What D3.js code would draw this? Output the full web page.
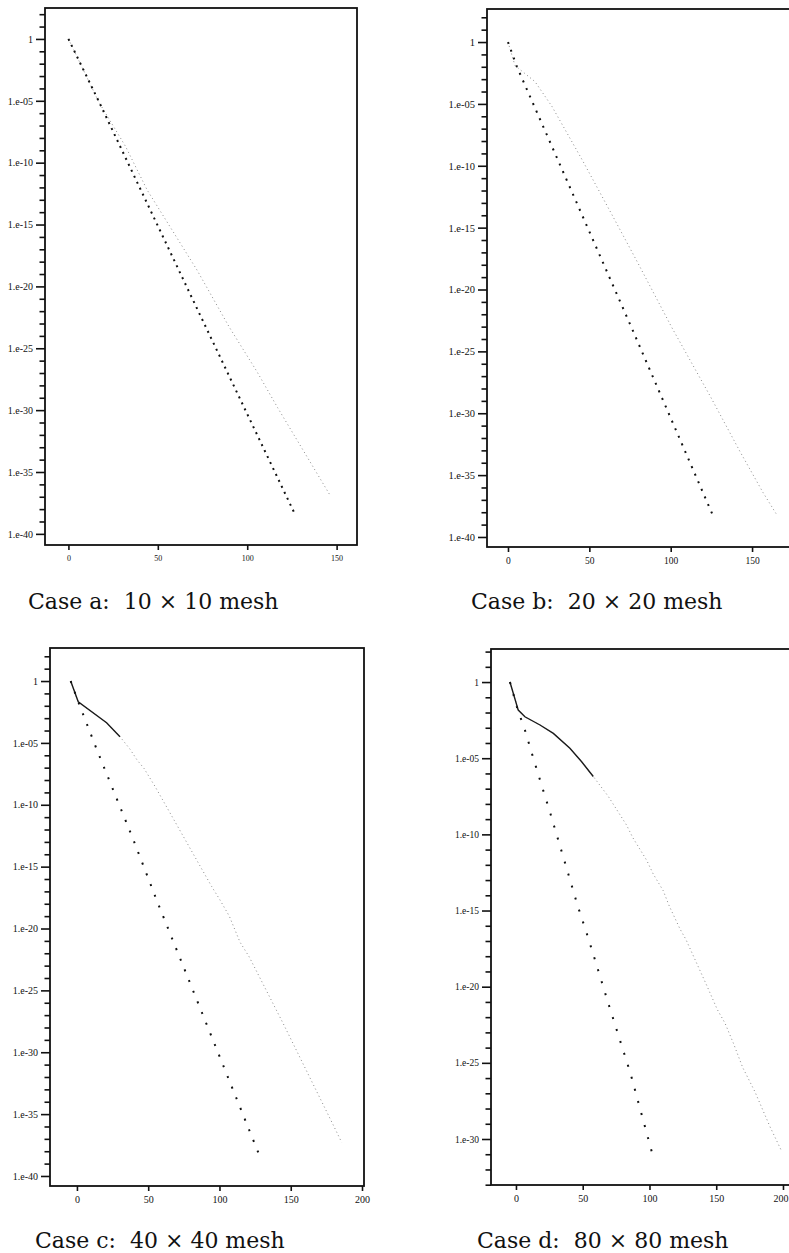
<!DOCTYPE html>
<html>
<head>
<meta charset="utf-8">
<script src="https://cdn.jsdelivr.net/npm/d3@7"></script>
<style>
  html, body { margin: 0; padding: 0; background: #fff; }
  svg { display: block; }
  .cap { white-space: pre; }
</style>
</head>
<body>
<svg id="fig" width="789" height="1253"></svg>
<script>
// ---- tick values and labels ----
const xTicksAB = [0, 50, 100, 150];
const xTicksCD = [0, 50, 100, 150, 200];
const yMajorExp = [0, -5, -10, -15, -20, -25, -30, -35, -40];
const yMajorLabels = ["1", "1.e-05", "1.e-10", "1.e-15", "1.e-20", "1.e-25", "1.e-30", "1.e-35", "1.e-40"];
const yMajorExpD = [0, -5, -10, -15, -20, -25, -30];
const yMajorLabelsD = ["1", "1.e-05", "1.e-10", "1.e-15", "1.e-20", "1.e-25", "1.e-30"];
const captions = ["Case a:  10 \u00d7 10 mesh", "Case b:  20 \u00d7 20 mesh",
                  "Case c:  40 \u00d7 40 mesh", "Case d:  80 \u00d7 80 mesh"];

// ---- residual histories: iteration number and log10(residual) ----
// Case a, 10 x 10
const aFastIter = [0, 17.5, 73.6, 126];
const aFastLog  = [0, -5.2, -22.3, -38.2];
const aSlowIter = [0, 17, 32, 44, 72, 90, 105.5, 117, 134, 146];
const aSlowLog  = [0, -5.1, -8.7, -12.2, -18.7, -23.3, -26.9, -29.8, -33.9, -36.8];
// Case b, 20 x 20
const bFastIter = [0, 5.5, 76, 125.4];
const bFastLog  = [0, -2.0, -23.1, -38.1];
const bSlowIter = [0, 4.3, 16.6, 27, 45.5, 64.5, 80, 100.8, 124.2, 142.6, 156.7, 164.7];
const bSlowLog  = [0, -1.9, -3.2, -5.2, -9.5, -14.1, -17.9, -23.1, -28.6, -33.1, -36.4, -38.1];
// Case c, 40 x 40
const cFastIter = [-4.4, 0.9, 13.8, 39.5, 55.9, 127.2];
const cFastLog  = [0, -1.67, -5.5, -12.8, -17.7, -38.1];
const cSlowIter = [-4.4, 0.9, 20.8, 30.2, 37.2, 42.3, 47, 54.7, 94.5, 100.4, 106.9, 114.4, 120.9, 144.8, 179.9, 185.8];
const cSlowLog  = [0, -1.67, -3.37, -4.5, -5.5, -6.4, -7.05, -8.5, -16.6, -17.7, -19.0, -21.1, -22.3, -27.7, -35.9, -37.3];
// Case d, 80 x 80
const dFastIter = [-4.5, 1, 6.7, 13, 26, 39.2, 45.9, 53, 58.7, 69.9, 85.8, 101.6];
const dFastLog  = [0, -1.73, -3.15, -5.0, -8.7, -12.6, -14.6, -16.5, -18.1, -21.3, -25.7, -30.8];
const dSlowIter = [-4.5, 1.7, 6.7, 18, 28, 40.4, 49.2, 57.9, 69.1, 82.9, 87.4, 97.9, 102.8, 110.3, 114.8, 122.8, 127.3, 142.8, 150.8, 156.6, 162.8, 169.8, 179, 190.3, 199];
const dSlowLog  = [0, -1.84, -2.28, -2.82, -3.37, -4.35, -5.23, -6.2, -7.5, -9.4, -10.2, -11.7, -12.6, -13.7, -14.7, -16.2, -16.9, -19.9, -21.5, -22.4, -23.7, -25.3, -26.9, -29.2, -30.8];

const zip = (xs, ys) => xs.map((v, i) => [v, ys[i]]);

// ---- panel layout (pixel frame, axis domains, text sizes) ----
const panels = [
  { frame: [45, 8, 357, 545], xDom: [-13.1, 161.4], yExp: [2.5, -40.9],
    xTicks: xTicksAB, yMaj: yMajorExp, yLab: yMajorLabels,
    fast: zip(aFastIter, aFastLog), slow: zip(aSlowIter, aSlowLog), denseTo: null,
    gap: 6.6, xFont: 8, yFont: 10, cap: captions[0], capX: 28, capY: 609 },
  { frame: [487, 9, 830, 547], xDom: [-12.9, 197.9], yExp: [2.67, -40.81],
    xTicks: xTicksAB, yMaj: yMajorExp, yLab: yMajorLabels,
    fast: zip(bFastIter, bFastLog), slow: zip(bSlowIter, bSlowLog), denseTo: null,
    gap: 8.2, xFont: 9.5, yFont: 10.5, cap: captions[1], capX: 471, capY: 609 },
  { frame: [50, 648, 364, 1186], xDom: [-18.9, 201.4], yExp: [2.67, -40.81],
    xTicks: xTicksCD, yMaj: yMajorExp, yLab: yMajorLabels,
    fast: zip(cFastIter, cFastLog), slow: zip(cSlowIter, cSlowLog), denseTo: 30.5,
    gap: 11.5, xFont: 10, yFont: 10, cap: captions[2], capX: 35, capY: 1248 },
  { frame: [491, 649, 795, 1185], xDom: [-18.7, 209], yExp: [2.17, -33.02],
    xTicks: xTicksCD, yMaj: yMajorExpD, yLab: yMajorLabelsD,
    fast: zip(dFastIter, dFastLog), slow: zip(dSlowIter, dSlowLog), denseTo: 58,
    gap: 12.5, xFont: 10, yFont: 9.5, cap: captions[3], capX: 477, capY: 1248 }
];

const W = 789;
const svg = d3.select("#fig");
const tickFont = "'Liberation Serif', 'Times New Roman', serif";

panels.forEach(p => {
  const [x0, y0, x1, y1] = p.frame;
  const x = d3.scaleLinear().domain(p.xDom).range([x0, x1]);
  const y = d3.scaleLog().domain([10 ** p.yExp[0], 10 ** p.yExp[1]]).range([y0, y1]);
  const g = svg.append("g");

  // minor decade ticks
  const minor = d3.range(Math.floor(p.yExp[0]), Math.ceil(p.yExp[1]) - 1, -1)
    .filter(e => e <= p.yExp[0] && e >= p.yExp[1] && !p.yMaj.includes(e))
    .map(e => 10 ** e);
  const gMinor = g.append("g").attr("transform", `translate(${x0},0)`)
    .call(d3.axisLeft(y).tickValues(minor).tickSize(5.5).tickFormat(""));
  gMinor.select(".domain").remove();

  // major ticks with labels
  const gMaj = g.append("g").attr("transform", `translate(${x0},0)`)
    .call(d3.axisLeft(y).tickValues(p.yMaj.map(e => 10 ** e)).tickSize(9).tickPadding(3)
      .tickFormat((d, i) => p.yLab[i]));
  gMaj.select(".domain").remove();
  gMaj.selectAll("text").attr("font-family", tickFont).attr("font-size", p.yFont).attr("fill", "#111");

  // iteration axis
  const gx = g.append("g").attr("transform", `translate(0,${y1})`)
    .call(d3.axisBottom(x).tickValues(p.xTicks).tickSize(5).tickPadding(5).tickFormat(d3.format("d")));
  gx.select(".domain").remove();
  gx.selectAll("text").attr("font-family", tickFont).attr("font-size", p.xFont).attr("fill", "#111");
  // keep labels at the right page edge inside the page
  gx.selectAll(".tick").each(function (d) {
    const t = d3.select(this).select("text");
    const half = t.node().getComputedTextLength() / 2;
    const over = x(d) + half - (W - 1);
    if (over > 0) t.attr("x", -over);
  });

  [gMinor, gMaj, gx].forEach(a => a.selectAll("line").attr("stroke", "#111").attr("stroke-width", 1.6));

  // frame
  g.append("rect").attr("x", x0).attr("y", y0).attr("width", x1 - x0).attr("height", y1 - y0)
    .attr("fill", "none").attr("stroke", "#111").attr("stroke-width", 1.8);

  const line = d3.line().x(d => x(d[0])).y(d => y(10 ** d[1]));

  // slower-converging history: faint dotted
  g.append("path").datum(p.slow).attr("d", line)
    .attr("fill", "none").attr("stroke", "#8a8a8a").attr("stroke-width", 1)
    .attr("stroke-dasharray", "1 3");
  if (p.denseTo !== null) {
    g.append("path").datum(p.slow.filter(d => d[0] <= p.denseTo)).attr("d", line)
      .attr("fill", "none").attr("stroke", "#1a1a1a").attr("stroke-width", 1.4);
  }

  // faster-converging history: bold dots, spaced so the last one sits at the final iterate
  const fastPath = g.append("path").datum(p.fast).attr("d", line)
    .attr("fill", "none").attr("stroke", "#111").attr("stroke-width", 2);
  const dashLen = 2;
  const L = fastPath.node().getTotalLength();
  const n = Math.max(1, Math.round((L - dashLen) / p.gap));
  const period = (L - dashLen) / n;
  fastPath.attr("stroke-dasharray", `${dashLen} ${period - dashLen}`);

  // caption
  svg.append("text").attr("class", "cap").attr("x", p.capX).attr("y", p.capY)
    .attr("font-family", "'DejaVu Serif', serif").attr("font-size", 22)
    .attr("fill", "#111").text(p.cap);
});
</script>
</body>
</html>
